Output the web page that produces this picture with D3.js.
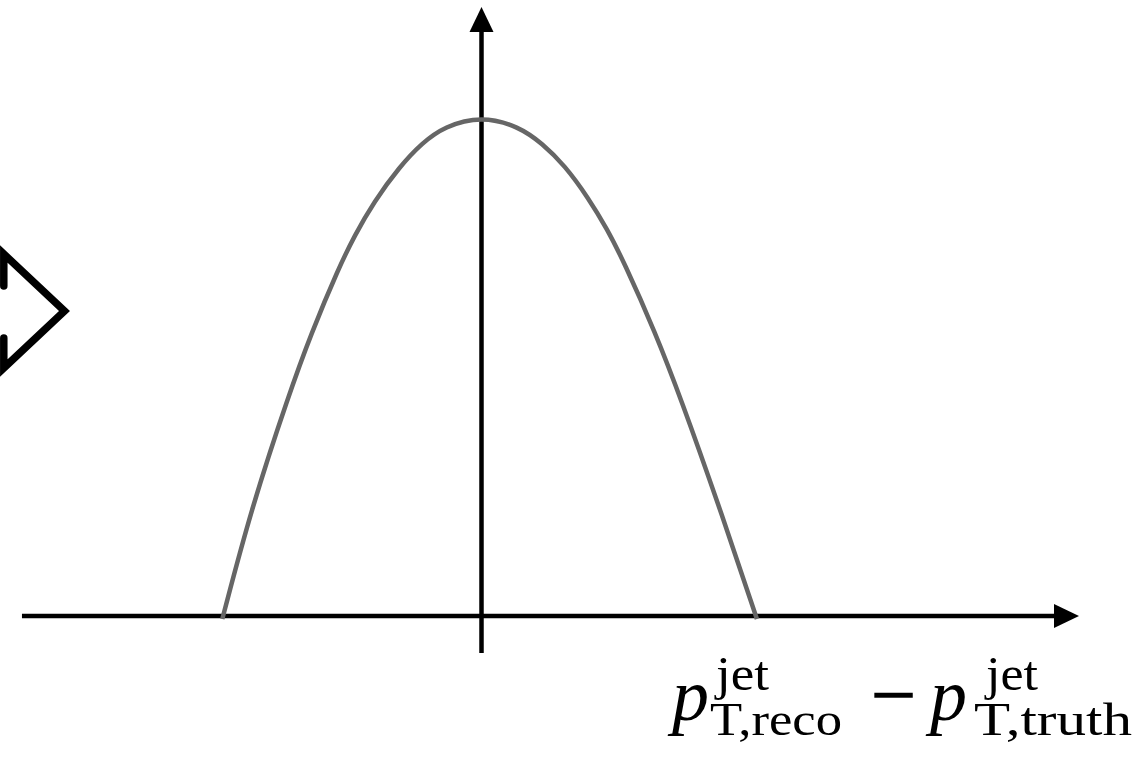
<!DOCTYPE html>
<html>
<head>
<meta charset="utf-8">
<script src="https://cdn.jsdelivr.net/npm/d3@7"></script>
<style>
  html, body { margin: 0; padding: 0; background: #fff; }
  svg { display: block; }
</style>
</head>
<body>
<svg id="chart" width="1143" height="760"></svg>
<script>
// Resolution curve: offset (reco - truth) vs. relative density
const offsets = [-0.960, -0.851, -0.714, -0.631, -0.529, -0.470, -0.399, -0.303, -0.220, -0.138, 0.000,
                  0.139,  0.225,  0.307,  0.396,  0.465,  0.526,  0.643,  0.739,  0.876,  1.020];
const density = [-0.006, 0.218, 0.442, 0.565, 0.696, 0.761, 0.828, 0.899, 0.946, 0.979, 1.000,
                  0.979, 0.945, 0.902, 0.836, 0.774, 0.710, 0.568, 0.434, 0.226, -0.006];

// Axis extents in data units
const xAxisExtent = [-1.702, 2.213];
const yAxisExtent = [-0.074, 1.218];

const svg = d3.select("#chart");

const x = d3.scaleLinear().domain([-1, 1]).range([211.5, 751.5]);
const y = d3.scaleLinear().domain([0, 1]).range([616, 116]);

const axisW = 4.5;
const head = 25, headHalf = 12;

// horizontal axis with arrow
const xa0 = x(xAxisExtent[0]), xa1 = x(xAxisExtent[1]), y0 = y(0);
svg.append("line")
  .attr("x1", xa0).attr("x2", xa1 - head + 1)
  .attr("y1", y0).attr("y2", y0)
  .attr("stroke", "#000").attr("stroke-width", axisW);
svg.append("path")
  .attr("d", `M${xa1},${y0} L${xa1 - head},${y0 - headHalf} L${xa1 - head},${y0 + headHalf} Z`)
  .attr("fill", "#000");

// vertical axis with arrow
const x0 = x(0), ya0 = y(yAxisExtent[0]), ya1 = y(yAxisExtent[1]);
svg.append("line")
  .attr("x1", x0).attr("x2", x0)
  .attr("y1", ya0).attr("y2", ya1 + head - 1)
  .attr("stroke", "#000").attr("stroke-width", axisW);
svg.append("path")
  .attr("d", `M${x0},${ya1} L${x0 - headHalf},${ya1 + head} L${x0 + headHalf},${ya1 + head} Z`)
  .attr("fill", "#000");

// distribution curve
const pts = offsets.map((o, i) => [o, density[i]]);
const line = d3.line()
  .x(d => x(d[0]))
  .y(d => y(d[1]))
  .curve(d3.curveBasis);
svg.append("path")
  .attr("d", line(pts))
  .attr("fill", "none")
  .attr("stroke", "#666")
  .attr("stroke-width", 4.5);

// outlined arrow entering from the left edge
svg.append("path")
  .attr("d", "M3.8,286 L3.8,254 L64.5,311 L3.8,368 L3.8,338")
  .attr("fill", "none")
  .attr("stroke", "#000")
  .attr("stroke-width", 7.5)
  .attr("stroke-linejoin", "miter")
  .attr("stroke-linecap", "round");

// axis label: p_T,reco^jet − p_T,truth^jet
const lab = svg.append("g");
function piece(txt, px, py, size, len, italic) {
  const t = lab.append("text")
    .attr("x", px).attr("y", py)
    .attr("font-family", "'Liberation Serif', 'Times New Roman', serif")
    .attr("font-size", size)
    .attr("font-style", italic ? "italic" : "normal")
    .attr("fill", "#000")
    .text(txt);
  if (len) t.attr("textLength", len).attr("lengthAdjust", "spacingAndGlyphs");
  return t;
}
piece("p", 672, 720, 74, null, true);
piece("jet", 716, 690, 48, 53, false);
piece("T,reco", 710, 735, 46, 132, false);
piece("\u2212", 871, 720, 74, 45, false).attr("stroke", "#000").attr("stroke-width", 1.2);
piece("p", 930, 720, 74, null, true);
piece("jet", 986, 690, 48, 52, false);
piece("T,truth", 974, 735, 46, 158, false);
</script>
</body>
</html>
